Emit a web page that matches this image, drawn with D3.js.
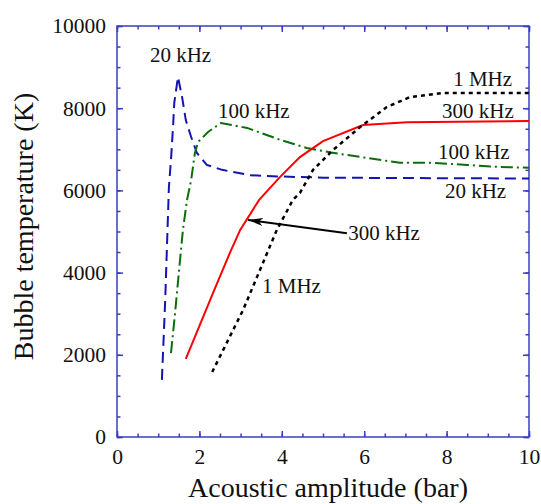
<!DOCTYPE html>
<html>
<head>
<meta charset="utf-8">
<script src="https://cdn.jsdelivr.net/npm/d3@7"></script>
<style>
  body { margin: 0; background: #fff; }
  svg text { font-family: "Liberation Serif", "Times New Roman", serif; fill: #111; }
</style>
</head>
<body>
<script>
// values: [amplitude (bar), temperature (K)]
var series20k = [[1.09,1390],[1.17,3330],[1.26,6080],[1.31,6740],[1.36,7540],[1.39,8130],[1.48,8760],
                 [1.58,8270],[1.67,7710],[1.80,7300],[1.94,6910],[2.18,6620],[2.55,6500],[3.23,6370],
                 [3.9,6340],[5,6310],[7,6300],[10,6290]];
var series100k = [[1.31,2040],[1.41,3020],[1.50,3990],[1.60,5040],[1.70,5770],[1.80,6250],[1.89,6910],
                  [1.97,7180],[2.21,7420],[2.45,7590],[2.52,7640],[3.16,7520],[3.96,7230],[4.61,7030],
                  [5.2,6920],[6.07,6790],[6.87,6670],[7.67,6670],[8.5,6620],[9.3,6570],[10,6550]];
var series300k = [[1.67,1900],[2.38,3620],[2.74,4480],[2.99,5040],[3.45,5770],[3.96,6330],[4.44,6810],
                  [5.0,7200],[5.97,7590],[7.04,7660],[10,7690]];
var series1M = [[2.31,1580],[3.06,3090],[3.54,4230],[3.88,5040],[4.27,5770],[4.44,5940],[4.76,6500],
                [5.24,6980],[5.90,7540],[6.55,8030],[7.11,8270],[7.91,8370],[10,8370]];

var xTicks = [0, 2, 4, 6, 8, 10];
var yTicks = [0, 2000, 4000, 6000, 8000, 10000];

var labels = [
  {text: "20 kHz", x: 0.80, y: 9120},
  {text: "100 kHz", x: 2.45, y: 7760},
  {text: "1 MHz", x: 8.16, y: 8540},
  {text: "300 kHz", x: 7.89, y: 7760},
  {text: "100 kHz", x: 7.79, y: 6760},
  {text: "20 kHz", x: 7.96, y: 5820},
  {text: "300 kHz", x: 5.61, y: 4790},
  {text: "1 MHz", x: 3.52, y: 3500}
];
var arrowFrom = [5.58, 4960], arrowTo = [3.18, 5280];

var width = 541, height = 504;
var plotL = 117, plotR = 529, plotT = 26, plotB = 437;
var axisColor = "#3c3cc8";

var svg = d3.select("body").append("svg")
    .attr("width", width)
    .attr("height", height);

var x = d3.scaleLinear().domain([0, 10]).range([plotL, plotR]);
var y = d3.scaleLinear().domain([0, 10000]).range([plotB, plotT]);

var xMinor = d3.range(0, 10.01, 0.5);
var yMinor = d3.range(0, 10001, 500);

function styleAxis(g) {
  g.select(".domain").remove();
  g.selectAll("line").attr("stroke", axisColor).attr("stroke-width", 1.5);
  g.selectAll("text").attr("font-size", 21.5).attr("fill", "#111")
    .attr("font-family", "Liberation Serif, Times New Roman, serif");
}

// bottom
svg.append("g").attr("transform", "translate(0," + plotB + ")")
  .call(d3.axisBottom(x).tickValues(xMinor).tickFormat("").tickSize(-3.5)).call(styleAxis);
svg.append("g").attr("transform", "translate(0," + plotB + ")")
  .call(d3.axisBottom(x).tickValues(xTicks).tickFormat(d3.format("d")).tickSize(-6).tickPadding(12)).call(styleAxis);
// top
svg.append("g").attr("transform", "translate(0," + plotT + ")")
  .call(d3.axisTop(x).tickValues(xMinor).tickFormat("").tickSize(-3.5)).call(styleAxis);
svg.append("g").attr("transform", "translate(0," + plotT + ")")
  .call(d3.axisTop(x).tickValues(xTicks).tickFormat("").tickSize(-6)).call(styleAxis);
// left
svg.append("g").attr("transform", "translate(" + plotL + ",0)")
  .call(d3.axisLeft(y).tickValues(yMinor).tickFormat("").tickSize(-3.5)).call(styleAxis);
svg.append("g").attr("transform", "translate(" + plotL + ",0)")
  .call(d3.axisLeft(y).tickValues(yTicks).tickFormat(d3.format("d")).tickSize(-6).tickPadding(11)).call(styleAxis);
// right
svg.append("g").attr("transform", "translate(" + plotR + ",0)")
  .call(d3.axisRight(y).tickValues(yMinor).tickFormat("").tickSize(-3.5)).call(styleAxis);
svg.append("g").attr("transform", "translate(" + plotR + ",0)")
  .call(d3.axisRight(y).tickValues(yTicks).tickFormat("").tickSize(-6)).call(styleAxis);

svg.append("rect")
    .attr("x", plotL).attr("y", plotT)
    .attr("width", plotR - plotL).attr("height", plotB - plotT)
    .attr("fill", "none")
    .attr("stroke", axisColor)
    .attr("stroke-width", 1.5);

var line = d3.line().x(function(d) { return x(d[0]); }).y(function(d) { return y(d[1]); });

svg.append("path").datum(series20k)
    .attr("d", line).attr("fill", "none")
    .attr("stroke", "#1414b4").attr("stroke-width", 2)
    .attr("stroke-dasharray", "11,6");

svg.append("path").datum(series100k)
    .attr("d", line).attr("fill", "none")
    .attr("stroke", "#0a6e0a").attr("stroke-width", 2)
    .attr("stroke-dasharray", "12,4,2,4");

svg.append("path").datum(series300k)
    .attr("d", line).attr("fill", "none")
    .attr("stroke", "#ff0000").attr("stroke-width", 2);

svg.append("path").datum(series1M)
    .attr("d", line).attr("fill", "none")
    .attr("stroke", "#000").attr("stroke-width", 2.5)
    .attr("stroke-dasharray", "4,4");

// arrow pointing at the 300 kHz curve
svg.append("defs").append("marker")
    .attr("id", "head")
    .attr("viewBox", "0 0 15 8")
    .attr("refX", 15).attr("refY", 4)
    .attr("markerWidth", 15).attr("markerHeight", 8)
    .attr("markerUnits", "userSpaceOnUse")
    .attr("orient", "auto")
  .append("path")
    .attr("d", "M0,0 L15,4 L0,8 L4,4 Z")
    .attr("fill", "#000");

svg.append("line")
    .attr("x1", x(arrowFrom[0])).attr("y1", y(arrowFrom[1]))
    .attr("x2", x(arrowTo[0])).attr("y2", y(arrowTo[1]))
    .attr("stroke", "#000").attr("stroke-width", 2)
    .attr("marker-end", "url(#head)");

svg.selectAll(".lbl").data(labels).enter().append("text")
    .attr("class", "lbl")
    .attr("x", function(d) { return x(d.x); })
    .attr("y", function(d) { return y(d.y); })
    .attr("font-size", 21)
    .text(function(d) { return d.text; });

svg.append("text")
    .attr("x", (plotL + plotR) / 2 + 5)
    .attr("y", 497)
    .attr("text-anchor", "middle")
    .attr("font-size", 28)
    .text("Acoustic amplitude (bar)");

svg.append("text")
    .attr("transform", "translate(33," + ((plotT + plotB) / 2 - 5) + ") rotate(-90)")
    .attr("text-anchor", "middle")
    .attr("font-size", 28)
    .text("Bubble temperature (K)");
</script>
</body>
</html>
